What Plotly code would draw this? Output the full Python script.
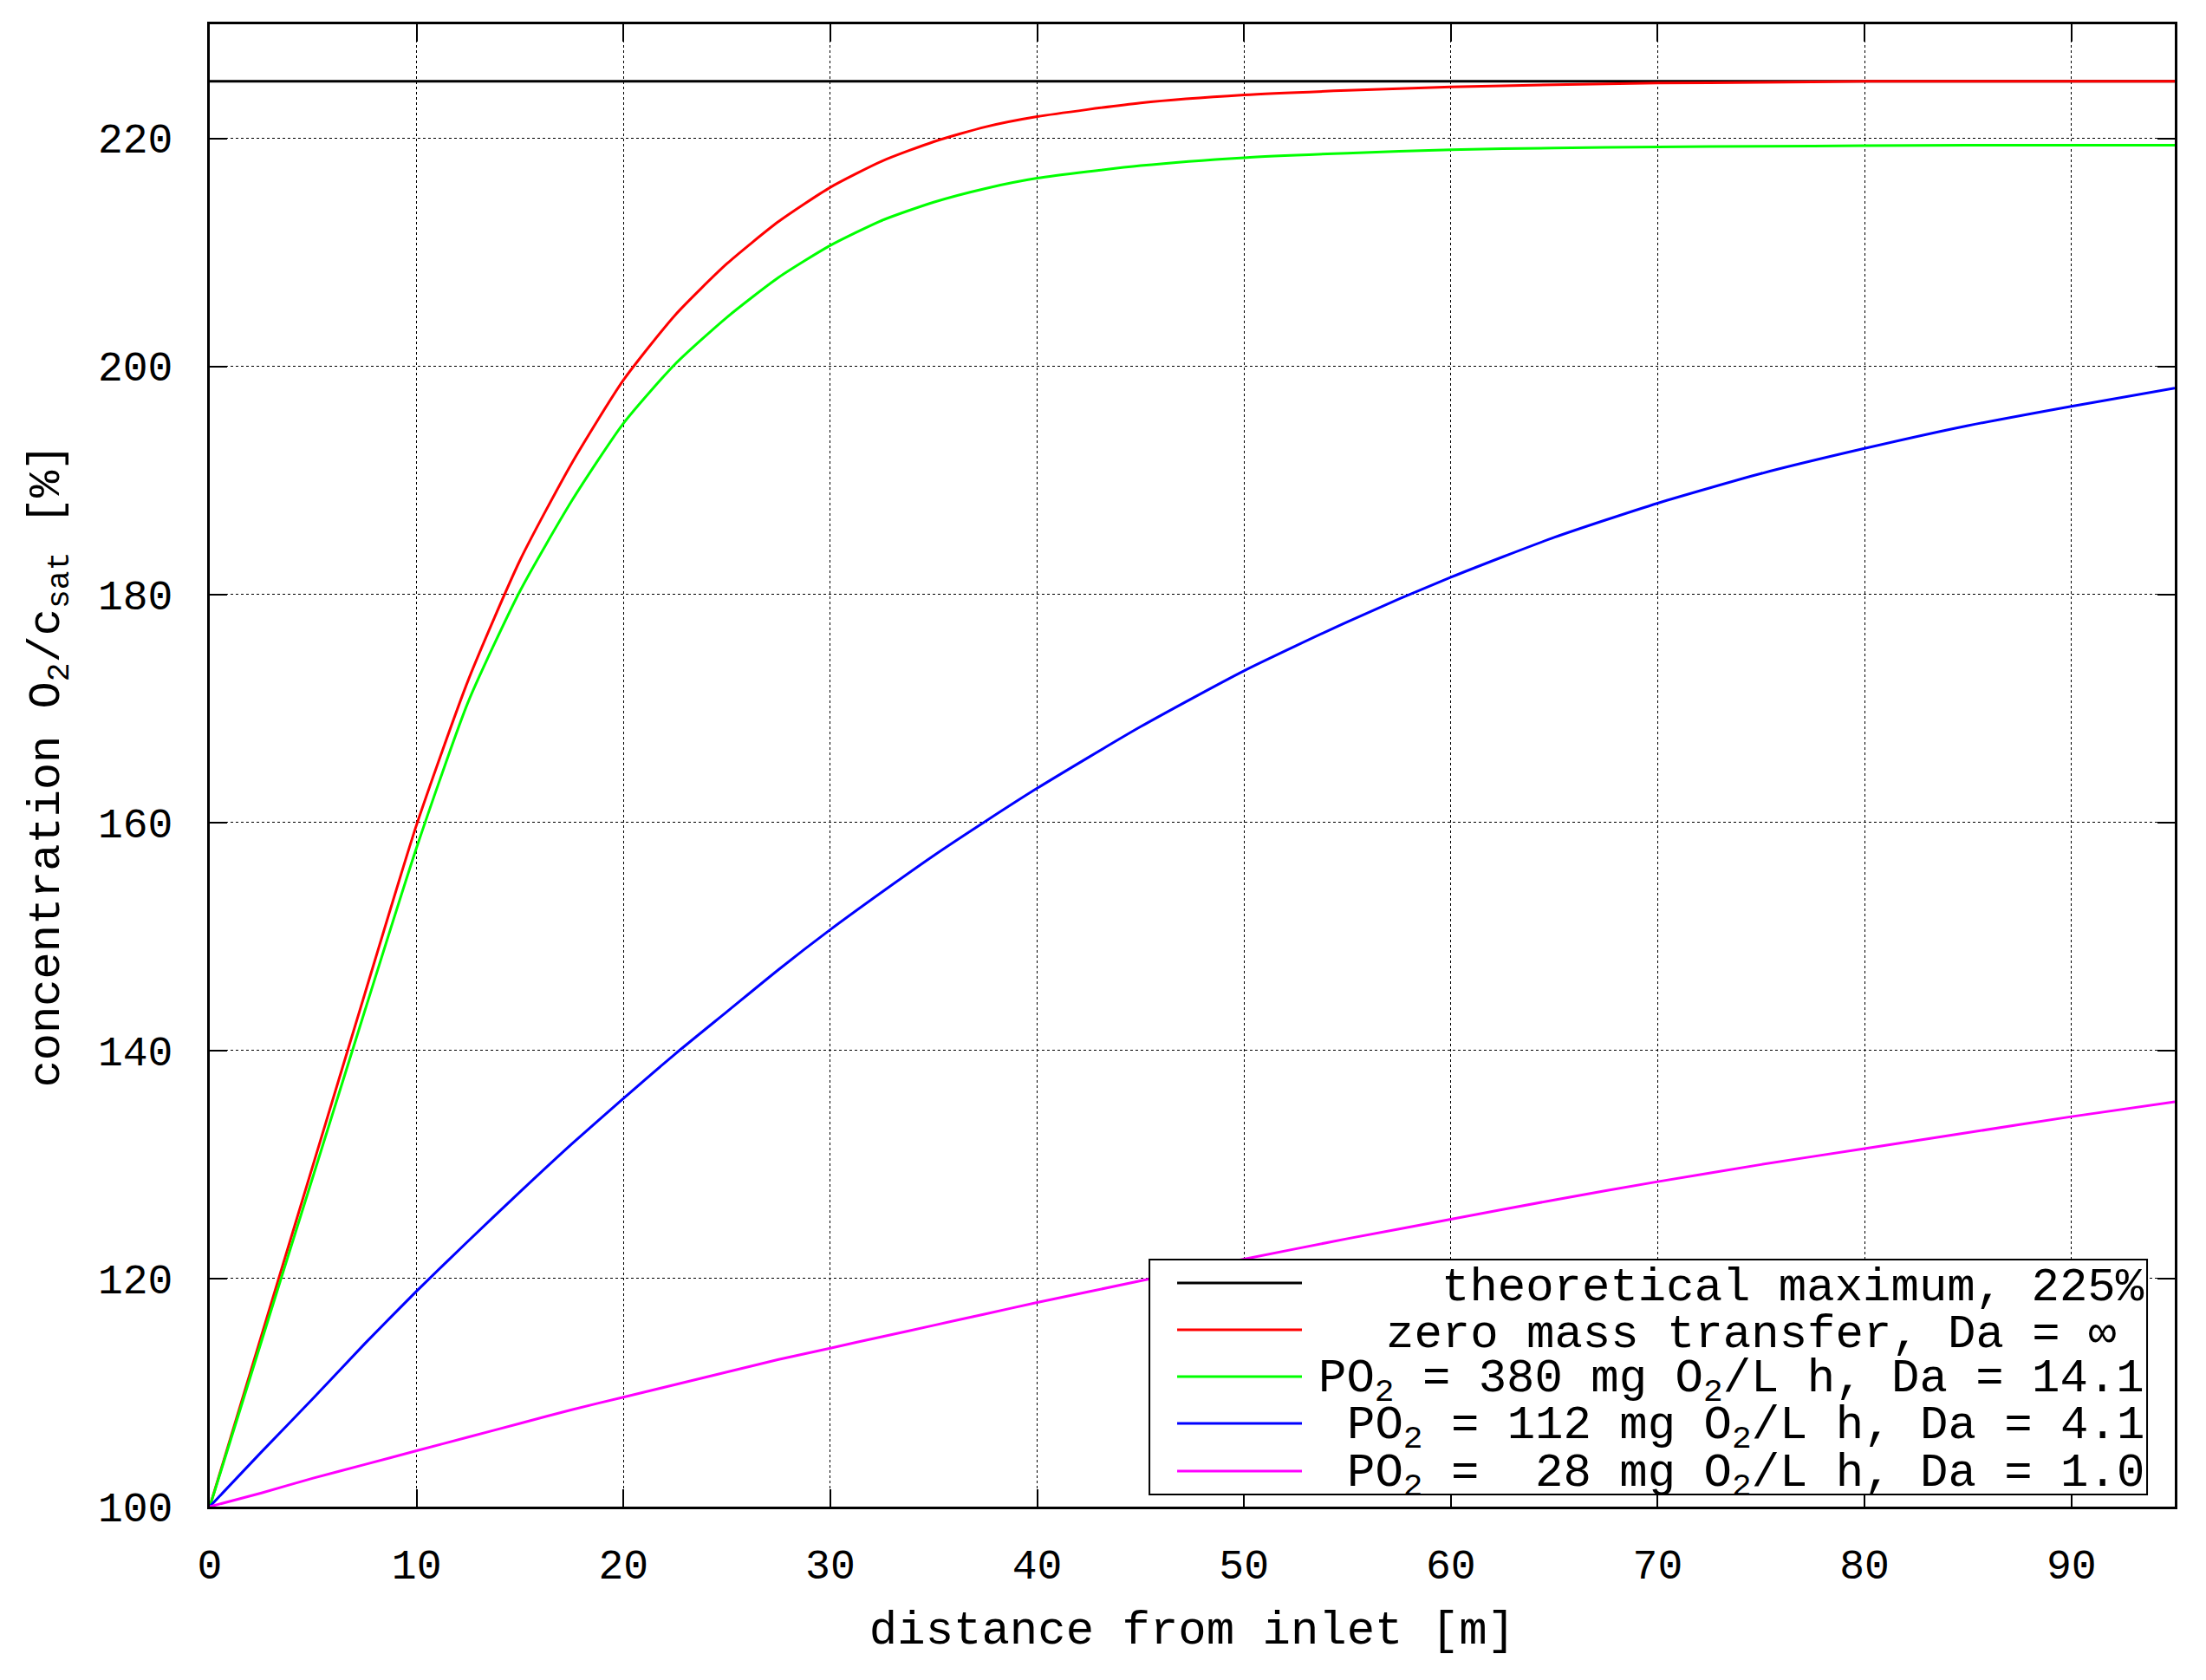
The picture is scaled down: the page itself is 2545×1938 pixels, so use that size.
import plotly.graph_objects as go

# distance from inlet [m]
distance = [0, 2.5, 5, 7.5, 10, 12.5, 15, 17.5, 20, 22.5, 25, 27.5, 30, 32.5, 35,
            37.5, 40, 45, 50, 55, 60, 65, 70, 75, 80, 85, 90, 95]

# concentration O2/csat [%]
theoretical_max = [225] * len(distance)
zero_transfer = [100, 115, 130, 145, 159.8, 172.5, 183, 191.5, 198.8, 204.5, 209, 212.7,
                 215.7, 218, 219.7, 221, 221.9, 223.1, 223.8, 224.2, 224.5, 224.7,
                 224.85, 224.9, 225, 225, 225, 225]
po2_380 = [100, 114.5, 129, 143.5, 157.8, 170.6, 180.3, 188.2, 195, 200.2, 204.3, 207.8,
           210.6, 212.8, 214.4, 215.6, 216.5, 217.6, 218.3, 218.7, 219.0, 219.15,
           219.25, 219.3, 219.35, 219.4, 219.4, 219.4]
po2_112 = [100, 104.8, 109.5, 114.3, 118.9, 123.3, 127.6, 131.8, 135.8, 139.7, 143.4,
           147.1, 150.6, 153.9, 157.1, 160.1, 163, 168.4, 173.3, 177.6, 181.5, 185,
           188, 190.6, 192.8, 194.8, 196.5, 198.1]
po2_28 = [100, 101.2, 102.5, 103.7, 104.9, 106.1, 107.3, 108.5, 109.6, 110.7, 111.8,
          112.9, 113.9, 114.9, 115.9, 116.9, 117.9, 119.8, 121.7, 123.5, 125.2, 126.9,
          128.5, 130, 131.4, 132.8, 134.2, 135.5]

series = [
    ("theoretical maximum, 225%", theoretical_max, "#000000"),
    ("zero mass transfer, Da = \u221e\u00a0", zero_transfer, "#FF0000"),
    ("PO<sub>2</sub> = 380 mg O<sub>2</sub>/L h, Da = 14.1", po2_380, "#00FF00"),
    ("PO<sub>2</sub> = 112 mg O<sub>2</sub>/L h, Da = 4.1", po2_112, "#0000FF"),
    ("PO<sub>2</sub> =\u00a0\u00a028 mg O<sub>2</sub>/L h, Da = 1.0", po2_28, "#FF00FF"),
]

FONT = "Liberation Mono, DejaVu Sans Mono, monospace"

fig = go.Figure()
for name, values, color in series:
    fig.add_trace(go.Scatter(
        x=distance, y=values,
        mode="lines",
        line=dict(color=color, width=3, shape="spline", smoothing=0.6),
        name=name,
        showlegend=False,
    ))

# gnuplot-style key: box, line samples, right-aligned labels
key_x0, key_x1 = 0.4782, 0.9859
key_y0, key_y1 = 0.0082, 0.1667
fig.add_shape(type="rect", xref="paper", yref="paper",
              x0=key_x0, x1=key_x1, y0=key_y0, y1=key_y1,
              line=dict(color="black", width=2), fillcolor="white", layer="above")
row_y = [0.1509, 0.1193, 0.0877, 0.0561, 0.0240]
for (name, _, color), y in zip(series, row_y):
    fig.add_shape(type="line", xref="paper", yref="paper",
                  x0=0.4923, x1=0.5558, y0=y, y1=y,
                  line=dict(color=color, width=3), layer="above")
    fig.add_annotation(xref="paper", yref="paper", x=0.9855, y=y - 0.003,
                       text=name, showarrow=False, xanchor="right", yanchor="middle",
                       font=dict(family=FONT, size=54, color="black"))

axis_common = dict(
    showline=True, linecolor="black", linewidth=3, mirror="ticks",
    ticks="inside", ticklen=20, tickwidth=1.5, tickcolor="black",
    showgrid=True, gridcolor="black", gridwidth=1.2, griddash="dot",
    zeroline=False,
    tickfont=dict(family=FONT, size=48, color="black"),
)

fig.update_xaxes(
    range=[0, 95], tick0=0, dtick=10,
    title=dict(text="distance from inlet [m]", font=dict(family=FONT, size=54, color="black"),
               standoff=25),
    ticklabelstandoff=22,
    **axis_common,
)
fig.update_yaxes(
    range=[100, 230], tick0=100, dtick=20,
    title=dict(text="concentration O<sub>2</sub>/c<sub>sat</sub>\u00a0[%]",
               font=dict(family=FONT, size=52, color="black"), standoff=28),
    ticklabelstandoff=30,
    **axis_common,
)

fig.update_layout(
    width=2545, height=1938,
    plot_bgcolor="white", paper_bgcolor="white",
    font=dict(family=FONT, color="black"),
    margin=dict(l=234, r=44, t=20, b=208),
)

fig.write_html("out.html")
